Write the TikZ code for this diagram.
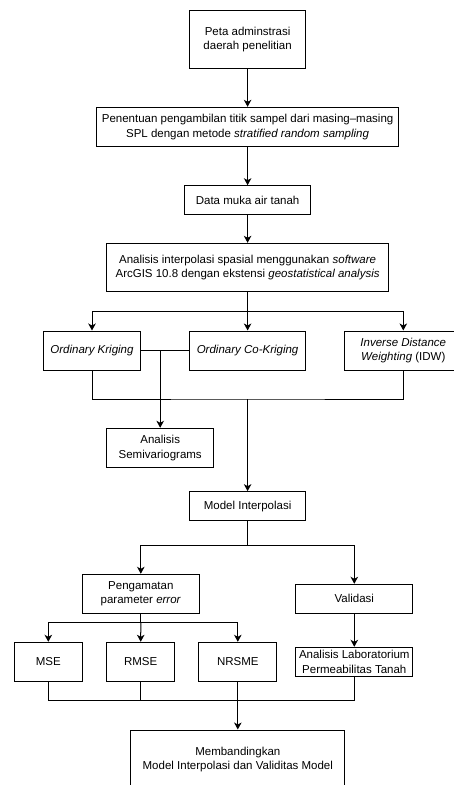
\documentclass[tikz,border=0pt]{standalone}
\usepackage{fontspec}
\setmainfont{Liberation Sans}
\usetikzlibrary{arrows.meta}
\begin{document}
\begin{tikzpicture}[x=1pt,y=-1pt,
  box/.style={draw,line width=1pt,inner sep=0pt,align=center,
    font=\fontsize{11.5pt}{14.4pt}\selectfont},
  arr/.style={-{Stealth[length=7pt,width=7.5pt,inset=2pt]}},
  ln/.style={line width=1pt}]
\useasboundingbox (0,0) rectangle (454,785);
\clip (0,0) rectangle (454,785);
\fill[white] (0,0) rectangle (454,785);
\node[box,minimum width=116.7pt,minimum height=58.4pt] (n1) at (247.6,39.5) {Peta adminstrasi\\daerah penelitian};
\node[box,minimum width=301.6pt,minimum height=39.4pt] (n2) at (247.6,127) {Penentuan pengambilan titik sampel dari masing–masing\\SPL dengan metode \textit{stratified random sampling}};
\node[box,minimum width=126pt,minimum height=29pt] (n3) at (247.6,200.2) {Data muka air tanah};
\node[box,minimum width=281.6pt,minimum height=48.4pt] (n4) at (247.6,267.5) {Analisis interpolasi spasial menggunakan \textit{software}\\ArcGIS 10.8 dengan ekstensi \textit{geostatistical analysis}};
\node[box,minimum width=96.6pt,minimum height=39pt] (ok) at (92,350.5) {\textit{Ordinary Kriging}};
\node[box,minimum width=116.7pt,minimum height=39pt] (ock) at (247.6,350.5) {\textit{Ordinary Co-Kriging}};
\node[box,minimum width=118pt,minimum height=39pt] (idw) at (403.3,350.5) {\textit{Inverse Distance}\\\textit{Weighting} (IDW)};
\node[box,minimum width=107pt,minimum height=39.4pt] (semi) at (160.2,448) {Analisis\\Semivariograms};
\node[box,minimum width=116.7pt,minimum height=29.3pt] (model) at (247.6,506.3) {Model Interpolasi};
\node[box,minimum width=117pt,minimum height=39pt] (peng) at (140.8,593.8) {Pengamatan\\parameter \textit{error}};
\node[box,minimum width=116.7pt,minimum height=29pt] (val) at (354.3,598.8) {Validasi};
\node[box,minimum width=68pt,minimum height=39pt] (mse) at (48.3,661.8) {MSE};
\node[box,minimum width=68pt,minimum height=39pt] (rmse) at (140.7,661.8) {RMSE};
\node[box,minimum width=77.7pt,minimum height=39pt] (nrsme) at (237.8,661.8) {NRSME};
\node[box,minimum width=116.7pt,minimum height=29.4pt] (lab) at (354.3,662) {Analisis Laboratorium\\Permeabilitas Tanah};
\node[box,minimum width=214.3pt,minimum height=59pt] (fin) at (237.8,759.5) {Membandingkan\\Model Interpolasi dan Validitas Model};
\coordinate (b1) at (247.6,311.7);
\coordinate (j1) at (160.2,350.5);
\coordinate (b2) at (247.6,399);
\coordinate (b3) at (247.6,545);
\coordinate (b4) at (140.8,622.7);
\coordinate (b5) at (237.8,700.7);
\begin{scope}[ln]
\draw[arr] (n1) -- (n2);
\draw[arr] (n2) -- (n3);
\draw[arr] (n3) -- (n4);
\draw[arr] (n4.south) -- (ock.north);
\draw[arr] (b1) -| (ok.north);
\draw[arr] (b1) -| (idw.north);
\draw (ok.east) -- (ock.west);
\draw[arr] (j1) -- (semi.north);
\draw (ok.south) |- (b2) -| (idw.south);
\draw[arr] (b2) -- (model.north);
\draw (model.south) -- (b3);
\draw[arr] (b3) -| (peng.north);
\draw[arr] (b3) -| (val.north);
\draw (peng.south) -- (b4);
\draw[arr] (b4) -| (mse.north);
\draw[arr] (b4) -- (rmse.north);
\draw[arr] (b4) -| (nrsme.north);
\draw[arr] (val.south) -- (lab.north);
\draw (mse.south) |- (lab.south |- b5) -- (lab.south);
\draw (rmse.south) -- (rmse.south |- b5);
\draw[arr] (nrsme.south) -- (fin.north);
\end{scope}
\end{tikzpicture}
\end{document}
